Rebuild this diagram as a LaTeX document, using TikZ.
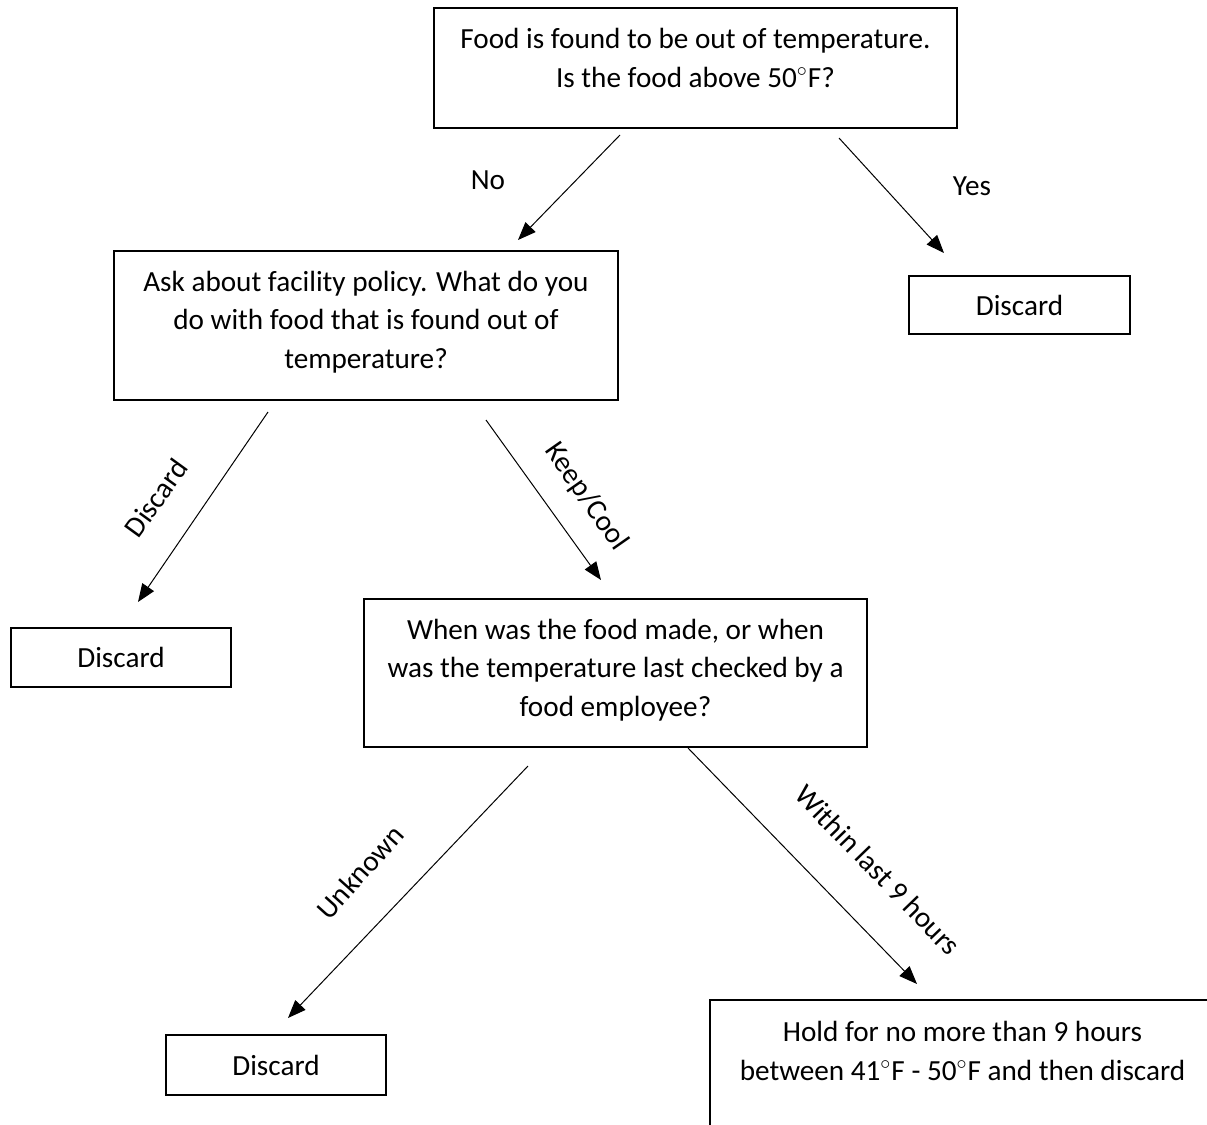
\documentclass[tikz,border=0pt]{standalone}
\usepackage{fontspec}
\setmainfont{Carlito}
\usetikzlibrary{arrows.meta}

\begin{document}
\begin{tikzpicture}[x=0.5pt, y=-0.5pt,
  box/.style={draw, line width=0.9pt, align=center, inner sep=0pt,
    font=\fontsize{14.6}{19.2}\selectfont},
  lbl/.style={font=\fontsize{14.6}{19.2}\selectfont, inner sep=1pt, align=center},
  arr/.style={line width=0.5pt, -{Triangle[length=9pt, width=7pt]}}]

  \useasboundingbox (0,0) rectangle (1207,1125);
  \clip (0,0) rectangle (1207,1125);

  % boxes
  \node[box, minimum width=261.5pt, minimum height=60pt] (start) at (695.5,68) {};
  \node[lbl] (starttxt) at (695.5,58)
    {Food is found to be out of temperature.\\Is the food above 50$^{\circ}$F?};
  \node[box, minimum width=110.5pt, minimum height=29pt] (yesdisc) at (1019.5,305) {Discard};
  \node[box, minimum width=252pt, minimum height=74.5pt] (policy) at (366,325.5) {};
  \node[lbl] (policytxt) at (366,322)
    {Ask about facility policy. What do you\\do with food that is found out of\\temperature?};
  \node[box, minimum width=110pt, minimum height=29.5pt] (poldisc) at (121,657.5) {Discard};
  \node[box, minimum width=251.5pt, minimum height=74pt] (when) at (615.5,673) {};
  \node[lbl] (whentxt) at (615.5,670)
    {When was the food made, or when\\was the temperature last checked by a\\food employee?};
  \node[box, minimum width=110pt, minimum height=30pt] (unkdisc) at (276,1065) {Discard};
  \node[box, minimum width=252.5pt, minimum height=70pt] (hold) at (962.5,1070)
    {Hold for no more than 9 hours\\between 41$^{\circ}$F - 50$^{\circ}$F and then discard\\\mbox{}};

  % arrow ends
  \coordinate (noA) at (620,135);   \coordinate (noB) at (518,240);
  \coordinate (yesA) at (839,138);  \coordinate (yesB) at (944,253);
  \coordinate (discA) at (268,412); \coordinate (discB) at (138,602);
  \coordinate (keepA) at (486,420); \coordinate (keepB) at (601,580);
  \coordinate (unkA) at (528,766);  \coordinate (unkB) at (288,1018);
  \coordinate (witA) at (688,748);  \coordinate (witB) at (917,984);

  % arrows
  \draw[arr] (noA) -- (noB);
  \draw[arr] (yesA) -- (yesB);
  \draw[arr] (discA) -- (discB);
  \draw[arr] (keepA) -- (keepB);
  \draw[arr] (unkA) -- (unkB);
  \draw[arr] (witA) -- (witB);

  % labels
  \node[lbl] (nolbl) at (488,180) {No};
  \node[lbl] (yeslbl) at (972,186) {Yes};
  \node[lbl, rotate=54] (disclbl) at (156,498) {Discard};
  \node[lbl, rotate=-55] (keeplbl) at (586,497) {Keep/Cool};
  \node[lbl, rotate=48] (unklbl) at (360,872) {Unknown};
  \node[lbl, rotate=-46] (witlbl) at (878,870) {Within last 9 hours};

\end{tikzpicture}
\end{document}
